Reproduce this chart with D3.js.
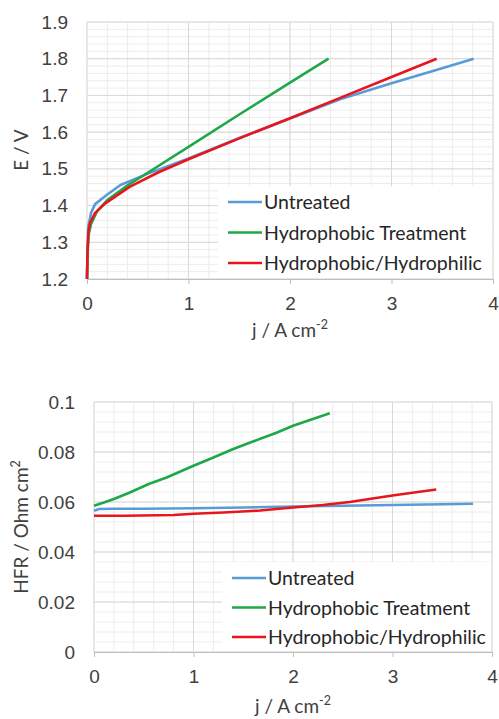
<!DOCTYPE html>
<html>
<head>
<meta charset="utf-8">
<script src="https://cdn.jsdelivr.net/npm/d3@7"></script>
<style>
  body { margin: 0; background: #fff; }
  svg { display: block; font-family: Lato, "Open Sans", sans-serif; }
</style>
</head>
<body>
<div id="chart"></div>
<script>
// polarisation curves (top panel)
const seriesNames = ["Untreated", "Hydrophobic Treatment", "Hydrophobic/Hydrophilic"];
const seriesColors = ["#5b9bd5", "#1ea84a", "#e8161c"];

const untreatedJ = [0, 0.005, 0.013, 0.04, 0.08, 0.2, 0.33, 0.6, 1.0, 1.5, 2.0, 2.5, 3.0, 3.4, 3.81];
const untreatedE = [1.2, 1.28, 1.343, 1.38, 1.404, 1.43, 1.456, 1.487, 1.528, 1.584, 1.637, 1.69, 1.733, 1.766, 1.8];
const phobicJ = [0, 0.005, 0.015, 0.04, 0.1, 0.2, 0.4, 0.59, 1.0, 1.5, 2.0, 2.38];
const phobicE = [1.2, 1.27, 1.32, 1.35, 1.385, 1.415, 1.455, 1.488, 1.56, 1.648, 1.735, 1.8];
const mixedJ = [0, 0.005, 0.015, 0.03, 0.08, 0.18, 0.42, 0.7, 1.0, 1.5, 2.0, 2.5, 3.0, 3.445];
const mixedE = [1.2, 1.27, 1.33, 1.353, 1.38, 1.406, 1.451, 1.49, 1.526, 1.583, 1.638, 1.694, 1.75, 1.8];

// high frequency resistance (bottom panel)
const untreatedHfrJ = [0, 0.05, 0.2, 0.5, 1.0, 1.5, 2.0, 2.5, 3.0, 3.5, 3.81];
const untreatedHfr = [0.0565, 0.0572, 0.0573, 0.0573, 0.0575, 0.0578, 0.0582, 0.0585, 0.0588, 0.0591, 0.0593];
const phobicHfrJ = [0, 0.1, 0.2, 0.36, 0.55, 0.73, 1.0, 1.2, 1.4, 1.57, 1.84, 2.0, 2.37];
const phobicHfr = [0.0585, 0.0598, 0.0612, 0.0638, 0.0672, 0.0698, 0.0745, 0.0778, 0.0812, 0.0838, 0.0878, 0.0905, 0.0955];
const mixedHfrJ = [0, 0.3, 0.8, 1.0, 1.3, 1.67, 2.0, 2.3, 2.57, 2.8, 3.0, 3.2, 3.44];
const mixedHfr = [0.0545, 0.0545, 0.0548, 0.0553, 0.0558, 0.0566, 0.0578, 0.0588, 0.06, 0.0614, 0.0626, 0.0637, 0.065];

const xTicks = [0, 1, 2, 3, 4];
const eTicks = [1.2, 1.3, 1.4, 1.5, 1.6, 1.7, 1.8, 1.9];
const hfrTicks = [0, 0.02, 0.04, 0.06, 0.08, 0.1];
const hfrTickLabels = ["0", "0.02", "0.04", "0.06", "0.08", "0.1"];

const W = 499, H = 719;
const svg = d3.select("#chart").append("svg")
    .attr("width", W)
    .attr("height", H);

const zip = (xs, ys) => xs.map((x, i) => ({ x: x, y: ys[i] }));

function drawPanel(p) {
    const x = d3.scaleLinear().domain([0, 4]).range([p.left, p.right]);
    const y = d3.scaleLinear().domain(p.yDomain).range([p.bottom, p.top]);
    const g = svg.append("g");

    // minor grid
    g.selectAll(".vminor")
        .data(d3.range(0, 4.0001, 0.2))
        .enter().append("line")
        .attr("x1", d => x(d)).attr("x2", d => x(d))
        .attr("y1", p.top).attr("y2", p.bottom)
        .style("stroke", "#ececec");
    g.selectAll(".hminor")
        .data(d3.range(p.yDomain[0], p.yDomain[1] + 1e-9, p.yMinor))
        .enter().append("line")
        .attr("x1", p.left).attr("x2", p.right)
        .attr("y1", d => y(d)).attr("y2", d => y(d))
        .style("stroke", "#ececec");

    // major grid
    g.selectAll(".vmajor")
        .data(xTicks)
        .enter().append("line")
        .attr("x1", d => x(d)).attr("x2", d => x(d))
        .attr("y1", p.top).attr("y2", p.bottom)
        .style("stroke", "#d9d9d9");
    g.selectAll(".hmajor")
        .data(p.yTicks)
        .enter().append("line")
        .attr("x1", p.left).attr("x2", p.right)
        .attr("y1", d => y(d)).attr("y2", d => y(d))
        .style("stroke", "#d9d9d9");

    // x axis
    const xAxis = g.append("g")
        .attr("transform", `translate(0,${p.bottom})`)
        .call(d3.axisBottom(x).tickValues(xTicks).tickSize(5).tickPadding(13).tickFormat(d3.format("d")));
    xAxis.select(".domain").attr("stroke", "#bfbfbf");
    xAxis.selectAll(".tick line").attr("stroke", "#bfbfbf");
    xAxis.selectAll("text").style("font-size", "19px").attr("fill", "#404040");

    // y axis
    const yAxis = g.append("g")
        .attr("transform", `translate(${p.left},0)`)
        .call(d3.axisLeft(y).tickValues(p.yTicks).tickSize(0).tickPadding(p.yPad)
            .tickFormat((d, i) => p.yLabels[i]));
    yAxis.select(".domain").remove();
    yAxis.selectAll("text").style("font-size", "19px").attr("fill", "#404040");

    // series
    const line = d3.line().x(d => x(d.x)).y(d => y(d.y));
    p.series.forEach((s, i) => {
        g.append("path")
            .datum(s)
            .attr("d", line)
            .attr("fill", "none")
            .attr("stroke", seriesColors[i])
            .attr("stroke-width", 2.6)
            .attr("stroke-linejoin", "round");
    });

    // legend
    const lg = g.append("g");
    lg.append("rect")
        .attr("x", p.legend.x).attr("y", p.legend.y)
        .attr("width", p.legend.w).attr("height", p.legend.h)
        .attr("fill", "#fff");
    seriesNames.forEach((name, i) => {
        const ry = p.legend.y + 16 + i * p.legend.step;
        lg.append("line")
            .attr("x1", p.legend.x + 10).attr("x2", p.legend.x + 44)
            .attr("y1", ry).attr("y2", ry)
            .attr("stroke", seriesColors[i]).attr("stroke-width", 2.6);
        lg.append("text")
            .attr("x", p.legend.x + 46).attr("y", ry + 7)
            .style("font-size", "19.5px").attr("fill", "#262626")
            .text(name);
    });

    // axis titles
    const xt = g.append("text")
        .attr("x", p.xTitle[0]).attr("y", p.xTitle[1])
        .attr("text-anchor", "middle")
        .style("font-size", "19px").attr("fill", "#404040");
    xt.append("tspan").text("j / A cm");
    xt.append("tspan").attr("dy", -8).style("font-size", "12.5px").text("-2");

    const yt = g.append("text")
        .attr("transform", `translate(${p.yTitle[0]},${p.yTitle[1]}) rotate(-90)`)
        .attr("text-anchor", "middle")
        .style("font-size", "19px").attr("fill", "#404040");
    yt.append("tspan").text(p.yTitleText);
    if (p.yTitleSup) {
        yt.append("tspan").attr("dy", -8).style("font-size", "12.5px").text(p.yTitleSup);
    }
}

drawPanel({
    left: 87, right: 493, top: 22, bottom: 279,
    yDomain: [1.2, 1.9], yMinor: 0.02, yTicks: eTicks,
    yLabels: eTicks.map(d => d3.format(".1f")(d)), yPad: 19,
    series: [zip(untreatedJ, untreatedE), zip(phobicJ, phobicE), zip(mixedJ, mixedE)],
    legend: { x: 218, y: 186, w: 274, h: 92, step: 30.5 },
    xTitle: [290, 337], yTitle: [28, 150], yTitleText: "E / V"
});

drawPanel({
    left: 94, right: 492, top: 402, bottom: 652,
    yDomain: [0, 0.1], yMinor: 0.004, yTicks: hfrTicks,
    yLabels: hfrTickLabels, yPad: 19,
    series: [zip(untreatedHfrJ, untreatedHfr), zip(phobicHfrJ, phobicHfr), zip(mixedHfrJ, mixedHfr)],
    legend: { x: 222, y: 562, w: 269, h: 89, step: 29.5 },
    xTitle: [293, 713], yTitle: [28, 527], yTitleText: "HFR / Ohm cm", yTitleSup: "2"
});
</script>
</body>
</html>
